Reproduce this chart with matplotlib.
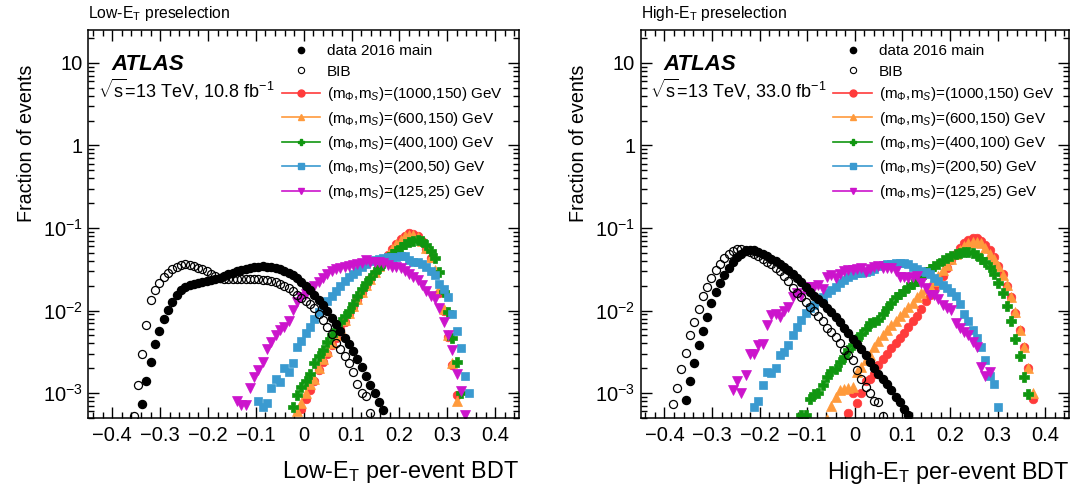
import numpy as np
import matplotlib.pyplot as plt
from matplotlib.lines import Line2D
from matplotlib.ticker import FixedLocator, FuncFormatter, LogLocator, NullFormatter

plt.rcParams['font.family'] = ['Liberation Sans', 'DejaVu Sans']
plt.rcParams['mathtext.fontset'] = 'custom'
plt.rcParams['mathtext.rm'] = 'Liberation Sans'
plt.rcParams['mathtext.it'] = 'Liberation Sans:italic'
plt.rcParams['mathtext.bf'] = 'Liberation Sans:bold'

# 100 bins of the per-event BDT in [-0.45, 0.45]
bin_edges = np.linspace(-0.45, 0.45, 101)
bin_centers = 0.5 * (bin_edges[:-1] + bin_edges[1:])

# ---- Low-ET preselection: (first bin index, fractions) ----
low_data_first = 12
low_data = [7.4e-4, 1.4e-3, 2.4e-3, 3.9e-3, 5.6e-3, 7.8e-3, 0.0101, 0.0127, 0.0154, 0.0176,
            0.0192, 0.0204, 0.0212, 0.0218, 0.0222, 0.0226, 0.0232, 0.0240, 0.0250, 0.0262,
            0.0275, 0.0288, 0.0300, 0.0312, 0.0322, 0.0330, 0.0336, 0.0340, 0.0342, 0.0340,
            0.0336, 0.0328, 0.0317, 0.0303, 0.0287, 0.0269, 0.0245, 0.0223, 0.0196, 0.0178,
            0.0156, 0.0135, 0.0117, 0.0099, 0.0082, 0.0068, 0.0056, 0.0046, 0.0039, 0.0032,
            0.0026, 0.0021, 0.0016, 0.00125, 0.00100, 0.00079, 0.00063]
low_bib_first = 10
low_bib = [5.3e-4, 1.27e-3, 3.0e-3, 6.7e-3, 0.0135, 0.0178, 0.0214, 0.0252, 0.0288, 0.0316,
           0.0340, 0.0356, 0.0364, 0.0358, 0.0345, 0.0332, 0.0316, 0.0298, 0.0275, 0.0260,
           0.0250, 0.0243, 0.0240, 0.0238, 0.0240, 0.0242, 0.0243, 0.0242, 0.0240, 0.0238,
           0.0236, 0.0232, 0.0228, 0.0222, 0.0212, 0.0200, 0.0190, 0.0172, 0.0155, 0.0141,
           0.0130, 0.0120, 0.0107, 0.0090, 0.0077, 0.0063, 0.0052, 0.0040, 0.0034, 0.0028,
           0.0023, 0.0018, 0.0013, 0.0010, 0.00093, 0.00057]
low_m1000_first = 49
low_m1000 = [6.5e-4, 8.5e-4, 1.1e-3, 1.4e-3, 1.9e-3, 2.4e-3, 3.0e-3, 3.8e-3, 4.7e-3, 5.9e-3,
             7.3e-3, 9.0e-3, 0.0110, 0.0135, 0.0165, 0.0200, 0.0240, 0.0285, 0.0340, 0.0400,
             0.0470, 0.0550, 0.0640, 0.0730, 0.0810, 0.0860, 0.0850, 0.0790, 0.0690, 0.0560,
             0.0430, 0.0290, 0.0165, 0.0100, 0.0048, 0.0022, 9.5e-4]
low_m600_first = 48
low_m600 = [6.0e-4, 7.5e-4, 1.0e-3, 1.3e-3, 1.5e-3, 2.0e-3, 2.6e-3, 3.2e-3, 4.0e-3, 5.0e-3,
            6.2e-3, 7.6e-3, 9.3e-3, 0.0113, 0.0138, 0.0168, 0.0203, 0.0243, 0.0290, 0.0345,
            0.0405, 0.0475, 0.0550, 0.0635, 0.0720, 0.0790, 0.0830, 0.0830, 0.0780, 0.0690,
            0.0570, 0.0450, 0.0310, 0.0180, 0.0105, 0.0050, 0.0023, 8.0e-4]
low_m400_first = 47
low_m400 = [6.8e-4, 9.5e-4, 1.2e-3, 1.4e-3, 1.7e-3, 2.3e-3, 2.8e-3, 3.3e-3, 4.2e-3, 5.0e-3,
            5.8e-3, 7.3e-3, 8.6e-3, 0.0100, 0.0120, 0.0150, 0.0180, 0.0215, 0.0250, 0.0290,
            0.0330, 0.0375, 0.0425, 0.0480, 0.0530, 0.0590, 0.0640, 0.0680, 0.0705, 0.0715,
            0.0690, 0.0620, 0.0530, 0.0430, 0.0290, 0.0170, 0.0095, 0.0046, 0.0024, 1.0e-3]
low_m200_first = 39
low_m200 = [8.0e-4, 6.8e-4, 7.5e-4, 1.15e-3, 1.5e-3, 1.35e-3, 2.0e-3, 1.8e-3, 2.3e-3, 3.6e-3,
            4.3e-3, 5.3e-3, 6.3e-3, 8.0e-3, 9.5e-3, 0.0110, 0.0130, 0.0150, 0.0175, 0.0200,
            0.0230, 0.0255, 0.0280, 0.0300, 0.0340, 0.0370, 0.0395, 0.0410, 0.0425, 0.0435,
            0.0440, 0.0445, 0.0448, 0.0455, 0.0460, 0.0410, 0.0385, 0.0390, 0.0365, 0.0335,
            0.0300, 0.0270, 0.0210, 0.0185, 0.0145, 0.0090, 0.0057, 0.0035, 0.0016, 1.0e-3]
low_m125_first = 34
low_m125 = [8.0e-4, 7.2e-4, 7.2e-4, 1.15e-3, 1.55e-3, 1.9e-3, 2.4e-3, 3.4e-3, 4.2e-3, 5.1e-3,
            5.8e-3, 6.4e-3, 7.4e-3, 0.0102, 0.0127, 0.0147, 0.0160, 0.0180, 0.0200, 0.0220,
            0.0245, 0.0280, 0.0305, 0.0320, 0.0330, 0.0340, 0.0350, 0.0358, 0.0365, 0.0380,
            0.0405, 0.0390, 0.0385, 0.0390, 0.0375, 0.0355, 0.0340, 0.0340, 0.0325, 0.0300,
            0.0280, 0.0257, 0.0235, 0.0205, 0.0175, 0.0152, 0.0140, 0.0107, 0.0073, 0.0050,
            0.0033, 1.7e-3, 1.05e-3, 5.4e-4]

# ---- High-ET preselection ----
high_data_first = 10
high_data = [8.2e-4, 1.4e-3, 2.3e-3, 3.8e-3, 5.7e-3, 8.4e-3, 0.0122, 0.0169, 0.0217, 0.0270,
             0.0330, 0.0390, 0.0440, 0.0490, 0.0525, 0.0540, 0.0535, 0.0510, 0.0485, 0.0455,
             0.0425, 0.0395, 0.0368, 0.0340, 0.0312, 0.0280, 0.0250, 0.0220, 0.0192, 0.0170,
             0.0152, 0.0137, 0.0122, 0.0108, 0.0095, 0.0083, 0.0073, 0.0062, 0.0053, 0.0045,
             0.0039, 0.0034, 0.0029, 0.0024, 0.0020, 0.0017, 0.0015, 0.0013, 0.0011, 9.0e-4,
             7.9e-4, 6.5e-4, 5.4e-4]
high_bib_first = 7
high_bib = [7.3e-4, 1.16e-3, 1.95e-3, 3.1e-3, 5.0e-3, 7.2e-3, 0.0104, 0.0151, 0.0195, 0.0245,
            0.0307, 0.0363, 0.0430, 0.0480, 0.0520, 0.0556, 0.0550, 0.0535, 0.0515, 0.0490,
            0.0460, 0.0425, 0.0390, 0.0363, 0.0330, 0.0300, 0.0265, 0.0225, 0.0190, 0.0165,
            0.0147, 0.0128, 0.0112, 0.0098, 0.0087, 0.0075, 0.0062, 0.0055, 0.0048, 0.0040,
            0.0033, 0.0029, 0.0025, 0.0019, 0.0015, 0.0012, 1.0e-3, 8.0e-4, 7.8e-4, 5.3e-4]
high_m1000_first = 48
high_m1000 = [5.7e-4, 1.0e-3, 7.5e-4, 1.0e-3, 1.4e-3, 1.5e-3, 1.7e-3, 2.2e-3, 2.6e-3, 3.0e-3,
              3.5e-3, 4.0e-3, 4.6e-3, 5.3e-3, 6.3e-3, 7.4e-3, 8.6e-3, 0.0105, 0.0130, 0.0155,
              0.0185, 0.0215, 0.0260, 0.0330, 0.0410, 0.0480, 0.0580, 0.0660, 0.0720, 0.0750,
              0.0750, 0.0700, 0.0630, 0.0540, 0.0440, 0.0350, 0.0280, 0.0200, 0.0145, 0.0093,
              0.0058, 0.0036, 0.0020, 8.5e-4]
high_m600_first = 43
high_m600 = [4.9e-4, 7.0e-4, 9.1e-4, 1.1e-3, 1.12e-3, 1.15e-3, 1.2e-3, 1.8e-3, 2.1e-3, 2.5e-3,
             2.9e-3, 3.6e-3, 4.3e-3, 5.0e-3, 5.8e-3, 6.6e-3, 7.5e-3, 8.5e-3, 9.7e-3, 0.0110,
             0.0125, 0.0145, 0.0163, 0.0180, 0.0200, 0.0230, 0.0265, 0.0310, 0.0360, 0.0420,
             0.0480, 0.0545, 0.0600, 0.0650, 0.0680, 0.0685, 0.0650, 0.0580, 0.0490, 0.0420,
             0.0350, 0.0270, 0.0205, 0.0145, 0.0095, 0.0058, 0.0036, 0.0020, 1.0e-3]
high_m400_first = 37
high_m400 = [5.4e-4, 5.4e-4, 8.5e-4, 9.8e-4, 1.0e-3, 1.27e-3, 1.55e-3, 1.85e-3, 1.95e-3, 2.4e-3,
             2.75e-3, 3.3e-3, 3.8e-3, 4.5e-3, 5.2e-3, 6.0e-3, 7.0e-3, 7.2e-3, 7.6e-3, 9.2e-3,
             0.0108, 0.0125, 0.0145, 0.0160, 0.0175, 0.0192, 0.0210, 0.0230, 0.0258, 0.0290,
             0.0322, 0.0345, 0.0370, 0.0405, 0.0435, 0.0460, 0.0478, 0.0500, 0.0510, 0.0515,
             0.0500, 0.0465, 0.0425, 0.0385, 0.0335, 0.0275, 0.0215, 0.0162, 0.0115, 0.0075,
             0.0045, 0.0028, 0.00155, 9.8e-4]
high_m200_first = 26
high_m200 = [6.8e-4, 8.0e-4, 1.25e-3, 1.8e-3, 1.75e-3, 2.0e-3, 2.9e-3, 3.15e-3, 3.8e-3, 5.1e-3,
             6.4e-3, 7.7e-3, 9.3e-3, 0.0107, 0.0118, 0.0131, 0.0147, 0.0162, 0.0177, 0.0195,
             0.0213, 0.0235, 0.0255, 0.0270, 0.0282, 0.0288, 0.0292, 0.0305, 0.0320, 0.0345,
             0.0355, 0.0362, 0.0370, 0.0378, 0.0378, 0.0372, 0.0364, 0.0340, 0.0320, 0.0305,
             0.0290, 0.0280, 0.0250, 0.0225, 0.0205, 0.0188, 0.0168, 0.0150, 0.0120, 0.0092,
             0.0075, 0.0058, 0.0046, 0.0036, 0.0025, 0.0016, 0.0013, 6.8e-4]
high_m125_first = 21
high_m125 = [1.1e-3, 1.4e-3, 1.0e-3, 1.65e-3, 3.0e-3, 3.0e-3, 3.8e-3, 3.9e-3, 6.7e-3, 8.8e-3,
             9.0e-3, 8.4e-3, 9.9e-3, 0.0111, 0.0147, 0.0162, 0.0150, 0.0195, 0.0195, 0.0195,
             0.0204, 0.0185, 0.0257, 0.0270, 0.0245, 0.0275, 0.0300, 0.0310, 0.0310, 0.0320,
             0.0325, 0.0296, 0.0320, 0.0340, 0.0350, 0.0330, 0.0325, 0.0330, 0.0300, 0.0257,
             0.0257, 0.0250, 0.0255, 0.0260, 0.0215, 0.0190, 0.0154, 0.0156, 0.0140, 0.0117,
             0.0107, 0.0102, 0.0070, 0.0061, 0.0055, 0.0050, 0.0042, 0.0036, 0.0021, 0.0016,
             0.0018]

signal_labels = [r'(m$_{\Phi}$,m$_{S}$)=(1000,150) GeV', r'(m$_{\Phi}$,m$_{S}$)=(600,150) GeV',
                 r'(m$_{\Phi}$,m$_{S}$)=(400,100) GeV', r'(m$_{\Phi}$,m$_{S}$)=(200,50) GeV',
                 r'(m$_{\Phi}$,m$_{S}$)=(125,25) GeV']
signal_colors = ['#ff3b3b', '#ff9a3c', '#109610', '#3a9ad0', '#cc14cc']
signal_markers = ['o', '^', 'P', 's', 'v']
signal_sizes = [6.2, 6.8, 7.2, 6.0, 6.8]

panels = [
    dict(series=[(low_m1000_first, low_m1000), (low_m600_first, low_m600), (low_m400_first, low_m400),
                 (low_m200_first, low_m200), (low_m125_first, low_m125)],
         data=(low_data_first, low_data), bib=(low_bib_first, low_bib),
         lumi='10.8', title=r'Low-E$_{\mathrm{T}}$ preselection',
         xlabel=r'Low-E$_{\mathrm{T}}$ per-event BDT'),
    dict(series=[(high_m1000_first, high_m1000), (high_m600_first, high_m600), (high_m400_first, high_m400),
                 (high_m200_first, high_m200), (high_m125_first, high_m125)],
         data=(high_data_first, high_data), bib=(high_bib_first, high_bib),
         lumi='33.0', title=r'High-E$_{\mathrm{T}}$ preselection',
         xlabel=r'High-E$_{\mathrm{T}}$ per-event BDT'),
]

W, H = 1071, 491
fig = plt.figure(figsize=(W / 100, H / 100), dpi=100)
axes_px = [(88.3, 519.0), (640.7, 1069.0)]
top_px, bot_px = 30, 418


def xs(first, vals):
    return bin_centers[first:first + len(vals)]


def tick_label(v, pos):
    if abs(v) < 1e-9:
        return '0'
    return f'{v:.1f}'.replace('-', '\u2212')


for (x0, x1), p in zip(axes_px, panels):
    ax = fig.add_axes([x0 / W, 1 - bot_px / H, (x1 - x0) / W, (bot_px - top_px) / H])
    ax.set_yscale('log')

    for (first, vals), c, m, s in zip(p['series'], signal_colors, signal_markers, signal_sizes):
        ax.plot(xs(first, vals), vals, ls='none', marker=m, ms=s, color=c, mec=c, mew=0.5)

    first, vals = p['bib']
    ax.plot(xs(first, vals), vals, ls='none', marker='o', ms=5.8, mfc='none', mec='black', mew=0.9)
    first, vals = p['data']
    ax.plot(xs(first, vals), vals, ls='none', marker='o', ms=5.8, color='black')

    ax.set_xlim(-0.45, 0.45)
    ax.set_ylim(5e-4, 25)

    ax.xaxis.set_major_locator(FixedLocator(np.round(np.arange(-0.4, 0.41, 0.1), 2)))
    ax.xaxis.set_minor_locator(FixedLocator(np.round(np.arange(-0.44, 0.45, 0.02), 2)))
    ax.xaxis.set_major_formatter(FuncFormatter(tick_label))
    ax.yaxis.set_major_locator(FixedLocator([1e-3, 1e-2, 1e-1, 1, 10]))
    ax.yaxis.set_major_formatter(FuncFormatter(
        lambda v, pos: {1e-3: r'$10^{-3}$', 1e-2: r'$10^{-2}$', 1e-1: r'$10^{-1}$', 1: '1', 10: '10'}.get(v, '')))
    ax.yaxis.set_minor_locator(LogLocator(base=10, subs=np.arange(2, 10), numticks=20))
    ax.yaxis.set_minor_formatter(NullFormatter())
    ax.tick_params(which='both', direction='in', top=True, right=True, width=1, labelsize=14.5)
    ax.tick_params(which='major', length=8)
    ax.tick_params(which='minor', length=4.5)
    ax.tick_params(axis='x', pad=6)
    ax.tick_params(axis='y', pad=4)
    for sp in ax.spines.values():
        sp.set_linewidth(1.1)

    ax.set_xlabel(p['xlabel'], fontsize=16.8, loc='right', labelpad=10)
    ax.set_ylabel('Fraction of events', fontsize=14.2, loc='top')
    ax.yaxis.set_label_coords(-0.122, 0.912)

    ax.text(0.0, 1.03, p['title'], transform=ax.transAxes, fontsize=11.3, va='baseline')
    ax.text(0.054, 0.897, 'ATLAS', transform=ax.transAxes, fontsize=16,
            fontweight='bold', fontstyle='italic', va='baseline')
    ax.text(0.022, 0.826, r'$\sqrt{\mathrm{s}}$=13 TeV, ' + p['lumi'] + r' fb$^{-1}$',
            transform=ax.transAxes, fontsize=13, va='baseline')

    handles = [Line2D([], [], ls='none', marker='o', ms=4.5, color='black'),
               Line2D([], [], ls='none', marker='o', ms=4.5, mfc='none', mec='black', mew=0.8)]
    for c, m in zip(signal_colors, signal_markers):
        handles.append(Line2D([], [], color=c, lw=1.2, marker=m, ms=5, mec=c))
    labels = ['data 2016 main', 'BIB'] + signal_labels
    ax.legend(handles, labels, loc='upper left', bbox_to_anchor=(0.45, 0.963), frameon=False,
              fontsize=11, handlelength=2.5, handletextpad=0.45, labelspacing=0.42,
              borderaxespad=0, borderpad=0)

fig.savefig('out.png', dpi=100)
